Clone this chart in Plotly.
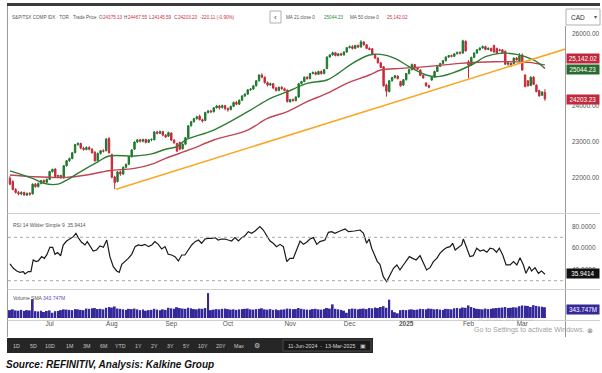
import plotly.graph_objects as go

W, H = 602, 373

# ---------------- data ----------------
month_idx = [14, 36, 57, 77, 99, 120, 140, 162, 181]
month_txt = ['Jul', 'Aug', 'Sep', 'Oct', 'Nov', 'Dec', '<b>2025</b>', 'Feb', 'Mar']
price_ticks = [22000, 23000, 24000, 26000]
rsi_ticks = [40, 60, 80]

opens = [22000, 21900, 21680, 21600, 21560, 21600, 21530, 21570, 21560, 21830,
 21760, 21850, 21930, 21880, 21960, 22180, 22250, 22040, 22070, 22000,
 22340, 22480, 22540, 22700, 22930, 22960, 22830, 22790, 22850, 22800,
 22720, 22480, 22680, 22760, 22760, 23100, 22650, 22030, 21900, 22170,
 22110, 22300, 22380, 22590, 22800, 23000, 23060, 23020, 23070, 22990,
 23060, 23060, 23280, 23240, 23290, 23190, 23160, 23250, 23050, 22960,
 22990, 22810, 22940, 23120, 23450, 23560, 23650, 23720, 23620, 23600,
 23820, 23860, 23840, 23950, 24000, 23960, 24010, 23930, 23900, 23990,
 24100, 24050, 24160, 24280, 24330, 24450, 24470, 24560, 24700, 24860,
 24800, 24650, 24580, 24620, 24500, 24430, 24520, 24480, 24440, 24120,
 24180, 24150, 24250, 24620, 24680, 24800, 24760, 24900, 24930, 24880,
 24960, 24900, 25040, 25360, 25420, 25480, 25400, 25450, 25420, 25500,
 25620, 25650, 25600, 25680, 25640, 25780, 25700, 25600, 25590, 25430,
 25330, 25200, 25090, 24580, 24400, 24700, 24790, 24830, 24680, 24580,
 24730, 24900, 25010, 25150, 25050, 25000, 24850, 24640, 24570, 24720,
 24800, 24960, 25100, 25180, 25260, 25360, 25400, 25380, 25450, 25490,
 25470, 25800, 25230, 25140, 25350, 25470, 25560, 25610, 25650, 25570,
 25600, 25680, 25600, 25560, 25560, 25520, 25160, 25190, 25180, 25330,
 25250, 25420, 24860, 24700, 24570, 24800, 24580, 24430, 24300, 24375.13]

highs = [22050, 21940, 21720, 21640, 21630, 21620, 21600, 21610, 21850, 21860,
 21870, 21950, 21960, 21990, 22200, 22260, 22270, 22090, 22090, 22360,
 22500, 22570, 22720, 22950, 22990, 22980, 22870, 22880, 22880, 22830,
 22740, 22710, 22780, 22800, 23110, 23130, 22680, 22060, 22190, 22210,
 22320, 22400, 22610, 22800, 23020, 23080, 23090, 23090, 23090, 23080,
 23100, 23300, 23310, 23320, 23310, 23220, 23290, 23270, 23080, 22980,
 23010, 22960, 23140, 23470, 23590, 23670, 23730, 23760, 23650, 23840,
 23890, 23890, 23970, 24030, 24030, 24040, 24030, 23960, 24010, 24120,
 24140, 24180, 24300, 24350, 24470, 24500, 24580, 24720, 24880, 24910,
 24820, 24680, 24650, 24640, 24530, 24540, 24550, 24510, 24460, 24200,
 24210, 24270, 24640, 24700, 24820, 24830, 24920, 24960, 24960, 24980,
 24990, 25030, 25380, 25440, 25510, 25500, 25470, 25480, 25520, 25640,
 25680, 25690, 25700, 25710, 25830, 25800, 25720, 25630, 25610, 25450,
 25350, 25220, 25110, 24620, 24720, 24810, 24860, 24850, 24700, 24750,
 24920, 25030, 25180, 25170, 25080, 25020, 24870, 24660, 24590, 24820,
 24980, 25120, 25200, 25280, 25380, 25420, 25430, 25470, 25510, 25520,
 25840, 25820, 25280, 25370, 25490, 25580, 25630, 25680, 25670, 25630,
 25620, 25700, 25620, 25590, 25580, 25540, 25230, 25210, 25350, 25360,
 25470, 25460, 24880, 24720, 24820, 24830, 24600, 24450, 24410, 24467.55]

lows = [21800, 21660, 21570, 21520, 21520, 21500, 21500, 21510, 21540, 21730,
 21740, 21820, 21850, 21860, 21940, 22150, 22020, 22000, 21980, 21990,
 22320, 22450, 22520, 22690, 22890, 22800, 22760, 22770, 22770, 22680,
 22450, 22470, 22650, 22710, 22740, 22680, 21990, 21690, 21880, 22060,
 22090, 22270, 22360, 22570, 22780, 22970, 22990, 22990, 22960, 22970,
 23020, 23050, 23210, 23220, 23160, 23110, 23140, 23030, 22950, 22720,
 22770, 22790, 22920, 23100, 23430, 23540, 23620, 23600, 23540, 23580,
 23790, 23800, 23820, 23930, 23900, 23930, 23880, 23840, 23880, 23970,
 24020, 24030, 24140, 24250, 24310, 24420, 24450, 24540, 24680, 24770,
 24620, 24540, 24560, 24470, 24400, 24410, 24450, 24410, 24100, 24090,
 24120, 24130, 24230, 24600, 24660, 24730, 24740, 24880, 24850, 24860,
 24870, 24880, 25020, 25340, 25400, 25380, 25380, 25390, 25400, 25480,
 25600, 25570, 25580, 25610, 25620, 25680, 25580, 25550, 25410, 25310,
 25180, 25050, 24540, 24260, 24380, 24680, 24760, 24740, 24540, 24560,
 24710, 24880, 24990, 25030, 25000, 24830, 24760, 24540, 24490, 24700,
 24780, 24940, 25080, 25160, 25240, 25340, 25350, 25360, 25430, 25430,
 25450, 25510, 24770, 25120, 25330, 25450, 25540, 25590, 25550, 25550,
 25510, 25480, 25450, 25520, 25460, 25140, 25120, 25080, 25160, 25260,
 25230, 24980, 24520, 24540, 24550, 24580, 24380, 24260, 24280, 24145.59]

closes = [21830, 21680, 21600, 21560, 21600, 21530, 21570, 21550, 21830, 21760,
 21850, 21930, 21880, 21960, 22180, 22240, 22040, 22070, 22010, 22340,
 22480, 22540, 22700, 22930, 22960, 22830, 22790, 22850, 22800, 22700,
 22480, 22680, 22760, 22740, 23080, 22700, 22020, 21870, 22170, 22110,
 22300, 22380, 22590, 22780, 23000, 23060, 23020, 23070, 22990, 23060,
 23070, 23280, 23240, 23290, 23190, 23140, 23260, 23050, 22980, 22750,
 22800, 22940, 23120, 23450, 23560, 23650, 23700, 23620, 23580, 23820,
 23860, 23840, 23950, 24000, 23950, 24010, 23930, 23900, 23990, 24100,
 24050, 24160, 24280, 24330, 24450, 24470, 24560, 24700, 24860, 24800,
 24650, 24580, 24620, 24500, 24430, 24520, 24480, 24430, 24120, 24180,
 24150, 24250, 24620, 24680, 24800, 24760, 24900, 24930, 24880, 24960,
 24900, 25010, 25360, 25420, 25480, 25400, 25450, 25420, 25500, 25620,
 25650, 25600, 25680, 25640, 25780, 25700, 25600, 25570, 25430, 25330,
 25200, 25070, 24560, 24410, 24700, 24790, 24840, 24760, 24560, 24730,
 24900, 25010, 25150, 25050, 25020, 24850, 24780, 24560, 24520, 24800,
 24960, 25100, 25180, 25260, 25360, 25400, 25380, 25450, 25490, 25470,
 25810, 25530, 25140, 25350, 25470, 25560, 25610, 25650, 25570, 25600,
 25530, 25500, 25470, 25540, 25480, 25160, 25200, 25130, 25330, 25280,
 25390, 25000, 24540, 24560, 24800, 24600, 24400, 24280, 24390, 24203.23]

ma21_x = [0, 8, 12, 17, 20, 25, 31, 35, 44, 50, 55, 59, 62, 72, 84, 92, 98, 105,
          112, 116, 121, 127, 131, 136, 141, 147, 151, 156, 163, 168, 173, 179, 185, 189]
ma21_y = [22200, 21990, 21850, 21830, 21940, 22180, 22450, 22610, 22610, 22670, 22800,
          22870, 23055, 23333, 23842, 24213, 24398, 24629, 24722, 24907, 25185, 25417,
          25435, 25324, 25093, 24861, 24815, 24907, 25139, 25370, 25463, 25435, 25278, 25044.23]

ma50_x = [0, 8, 20, 27, 35, 44, 51, 55, 64, 72, 84, 91, 98, 105, 112, 119, 127,
          131, 138, 147, 159, 171, 183, 189]
ma50_y = [22083, 22037, 22018, 22083, 22203, 22268, 22407, 22546, 22800, 23055, 23333,
          23657, 23842, 24120, 24352, 24629, 24861, 25000, 25046, 25093, 25185, 25231,
          25213, 25142.02]

trend_x = [37.5, 196.5]
trend_y = [21690, 25590]

rsi_x = [0, 1.2, 2.4, 3.5, 4.7, 5.3, 6.5, 7.4, 8.2, 9.2, 10.0, 11.2, 12.1, 13.0, 14.1,
         15.1, 15.9, 16.8, 17.9, 18.8, 20.0, 21.2, 22.4, 23.3, 24.1, 25.3, 26.5, 27.3,
         28.3, 29.4, 30.6, 31.8, 33.0, 34.2, 35.3, 36.5, 37.7, 38.6, 39.5, 40.6, 41.8,
         43.0, 44.2, 45.3, 46.5, 47.7, 48.9, 50.1, 51.2, 52.4, 53.6, 54.8, 55.9, 57.1,
         58.3, 59.5, 60.7, 61.8, 63.0, 64.2, 65.4, 66.6, 67.7, 68.9, 70.1, 71.3, 72.4,
         73.6, 74.8, 76.0, 77.1, 78.3, 79.5, 80.7, 81.9, 83.0, 84.2, 85.4, 86.6, 88.3,
         89.5, 90.7, 91.9, 93.0, 94.2, 95.4, 96.6, 97.8, 98.9, 100.1, 101.3, 102.5,
         103.7, 104.8, 106.0, 107.2, 108.4, 109.5, 111.3, 112.5, 113.7, 114.8, 116.6,
         118.4, 119.6, 120.7, 121.7, 123.7, 124.9, 126.0, 126.9, 127.8, 128.9, 129.8,
         130.7, 131.9, 133.1, 134.3, 135.5, 136.7, 137.8, 139.0, 140.2, 141.1, 142.3,
         143.5, 144.9, 146.0, 147.2, 148.4, 149.6, 150.8, 151.9, 153.1, 154.3, 155.5,
         156.4, 157.3, 158.4, 159.6, 160.2, 161.4, 162.5, 163.7, 164.9, 166.1, 167.3,
         168.5, 169.6, 170.8, 171.9, 172.9, 174.1, 175.3, 176.7, 177.9, 179.1, 180.2,
         181.4, 182.3, 183.5, 184.3, 185.5, 186.7, 187.8, 189.0]
rsi_y = [45.5, 41.4, 39.0, 37.7, 38.4, 36.2, 38.4, 38.4, 49.1, 47.6, 48.2, 52.2, 50.6,
         53.7, 60.8, 60.8, 54.3, 55.9, 53.0, 62.9, 66.6, 69.0, 70.6, 73.7, 69.7, 65.4,
         62.9, 66.0, 62.3, 57.4, 58.3, 62.0, 60.8, 67.5, 52.2, 43.0, 39.0, 37.7, 45.1,
         47.6, 50.6, 54.3, 61.4, 62.9, 62.3, 63.5, 61.4, 62.9, 66.0, 63.5, 59.2, 61.4,
         54.3, 53.7, 52.2, 48.2, 53.7, 53.7, 58.3, 62.9, 66.0, 67.5, 64.5, 68.4, 69.0,
         69.0, 69.7, 67.5, 68.4, 68.4, 67.5, 66.6, 69.7, 66.6, 69.7, 71.5, 75.2, 73.7,
         75.8, 79.8, 76.7, 72.1, 66.6, 64.5, 61.4, 63.5, 61.4, 47.6, 50.6, 50.6, 58.3,
         66.6, 63.5, 65.4, 68.4, 69.7, 63.5, 66.0, 67.5, 74.6, 75.2, 73.7, 75.8, 77.7,
         75.2, 75.8, 75.8, 76.7, 73.7, 64.5, 68.4, 59.9, 52.2, 47.6, 45.1, 33.7, 29.2,
         35.3, 41.4, 44.5, 39.9, 44.5, 49.1, 52.2, 50.6, 49.1, 53.1, 46.0, 39.9, 42.0,
         47.6, 50.6, 55.2, 58.3, 60.5, 61.4, 64.5, 58.3, 60.5, 62.9, 68.4, 59.9, 52.2,
         53.1, 59.9, 57.4, 58.3, 56.2, 59.9, 59.2, 56.2, 59.9, 53.7, 44.5, 44.5, 47.6,
         44.5, 51.2, 44.5, 36.8, 43.0, 39.0, 42.0, 36.8, 39.0, 35.9414]

volume_m = [300, 330, 290, 280, 310, 270, 300, 290, 720, 260,
            250, 280, 230, 270, 290, 200, 260, 270, 300, 330,
            320, 310, 300, 340, 330, 310, 300, 360, 350, 370,
            380, 340, 350, 330, 390, 420, 400, 440, 360, 350,
            330, 310, 350, 340, 360, 330, 300, 320, 280, 300,
            310, 350, 320, 300, 330, 310, 390, 370, 350, 410,
            380, 360, 350, 390, 370, 340, 330, 360, 350, 380,
            950, 300, 320, 340, 330, 350, 360, 340, 320, 330,
            310, 330, 340, 350, 360, 330, 320, 340, 350, 370,
            330, 320, 340, 310, 330, 300, 320, 330, 360, 350,
            330, 340, 380, 350, 330, 320, 310, 340, 350, 330,
            320, 340, 380, 360, 520, 350, 330, 310, 280, 200,
            340, 360, 350, 330, 350, 360, 340, 380, 370, 400,
            380, 420, 450, 390, 700, 300, 220, 180, 300, 310,
            300, 320, 330, 310, 320, 350, 340, 330, 360, 350,
            330, 340, 320, 310, 350, 340, 330, 370, 380, 360,
            400, 390, 480, 420, 380, 350, 340, 330, 360, 340,
            350, 370, 380, 390, 400, 420, 380, 390, 410, 400,
            450, 480, 470, 460, 420, 490, 460, 440, 430, 410]

idx = list(range(len(closes)))

# ---------------- styling ----------------
GREEN = '#1e7a2e'
RED = '#c62a3a'
MA21C = '#2e7d32'
MA50C = '#c04455'
ORANGE = '#f8a624'
VOLC = '#35289a'
TXT = '#555555'
FONT = 'Liberation Sans, Arial, sans-serif'


def px(x):
    return x / W


def py(y):
    return 1 - y / H


fig = go.Figure()

fig.add_trace(go.Candlestick(
    x=idx, open=opens, high=highs, low=lows, close=closes,
    increasing=dict(line=dict(color=GREEN, width=1), fillcolor=GREEN),
    decreasing=dict(line=dict(color=RED, width=1), fillcolor=RED),
    whiskerwidth=0, xaxis='x', yaxis='y', showlegend=False, hoverinfo='skip'))

fig.add_trace(go.Scatter(x=ma50_x, y=ma50_y, mode='lines', line=dict(color=MA50C, width=1.4, shape='spline'),
                         xaxis='x', yaxis='y', showlegend=False, hoverinfo='skip'))
fig.add_trace(go.Scatter(x=ma21_x, y=ma21_y, mode='lines', line=dict(color=MA21C, width=1.4, shape='spline'),
                         xaxis='x', yaxis='y', showlegend=False, hoverinfo='skip'))
fig.add_trace(go.Scatter(x=trend_x, y=trend_y, mode='lines', line=dict(color=ORANGE, width=1.6),
                         xaxis='x', yaxis='y', showlegend=False, hoverinfo='skip', cliponaxis=True))

fig.add_trace(go.Scatter(x=rsi_x, y=rsi_y, mode='lines', line=dict(color='#1a1a1a', width=1.2),
                         xaxis='x', yaxis='y2', showlegend=False, hoverinfo='skip'))

fig.add_trace(go.Bar(x=idx, y=[v * 1e6 for v in volume_m], marker=dict(color=VOLC, line=dict(width=0)),
                     width=0.7, xaxis='x', yaxis='y3', showlegend=False, hoverinfo='skip'))

X0, X1 = 8, 565
fig.update_layout(
    width=W, height=H, autosize=False,
    margin=dict(l=0, r=0, t=0, b=0),
    paper_bgcolor='white', plot_bgcolor='white',
    font=dict(family=FONT, size=6, color=TXT),
    xaxis=dict(domain=[px(X0), px(X1)], range=[-0.7, 196.1], anchor='y3',
               tickvals=month_idx, ticktext=month_txt, showgrid=False, zeroline=False,
               showline=False, ticks='', tickfont=dict(size=6.5, color=TXT),
               rangeslider=dict(visible=False), fixedrange=True),
    yaxis=dict(domain=[py(213), py(25)], range=[21028, 26250], side='right', anchor='x',
               tickvals=price_ticks, tickformat='.2f',
               showgrid=False, zeroline=False, showline=False, ticks='',
               ticklabelstandoff=6, tickfont=dict(size=6.5, color=TXT)),
    yaxis2=dict(domain=[py(289), py(215)], range=[22.35, 90.55], side='right', anchor='x',
                tickvals=rsi_ticks, tickformat='.4f', showgrid=False, zeroline=False,
                showline=False, ticks='', ticklabelstandoff=6, tickfont=dict(size=6.5, color=TXT)),
    yaxis3=dict(domain=[py(318), py(291)], range=[0, 1030e6], side='right', anchor='x',
                showticklabels=False, showgrid=False, zeroline=False, showline=False),
    bargap=0.3,
)

shapes = []
shapes.append(dict(type='rect', xref='paper', yref='paper', x0=px(7), x1=px(600), y0=py(6), y1=py(3),
                   fillcolor='#3c3c3c', line=dict(width=0), layer='above'))
shapes.append(dict(type='line', xref='paper', yref='paper', x0=px(7.5), x1=px(7.5), y0=py(6), y1=py(337),
                   line=dict(color='#9a9a9a', width=1)))
shapes.append(dict(type='line', xref='paper', yref='paper', x0=px(565.5), x1=px(565.5), y0=py(26), y1=py(337),
                   line=dict(color='#9a9a9a', width=1)))
for yy in [213.5, 289.5, 320.5]:
    shapes.append(dict(type='line', xref='paper', yref='paper', x0=px(7.5), x1=px(600), y0=py(yy), y1=py(yy),
                       line=dict(color='#d0d0d0', width=1)))
for lvl in [70, 30]:
    shapes.append(dict(type='line', xref='paper', yref='y2', x0=px(X0), x1=px(X1), y0=lvl, y1=lvl,
                       line=dict(color='#a8a8a8', width=1, dash='dot')))
shapes.append(dict(type='rect', xref='paper', yref='paper', x0=px(7), x1=px(373), y0=py(353), y1=py(338),
                   fillcolor='#262626', line=dict(width=0)))
shapes.append(dict(type='rect', xref='paper', yref='paper', x0=px(283), x1=px(371), y0=py(351), y1=py(340),
                   fillcolor='#1a1a1a', line=dict(color='#4a4a4a', width=1)))
shapes.append(dict(type='rect', xref='paper', yref='paper', x0=px(566), x1=px(600), y0=py(25), y1=py(9),
                   fillcolor='white', line=dict(color='#b0b0b0', width=1)))
shapes.append(dict(type='rect', xref='paper', yref='paper', x0=px(270), x1=px(281), y0=py(23), y1=py(11),
                   fillcolor='white', line=dict(color='#b0b0b0', width=1)))
fig.update_layout(shapes=shapes)

ann = []


def text(x, y, s, size=6, color=TXT, anchor='left', **kw):
    ann.append(dict(xref='paper', yref='paper', x=px(x), y=py(y), text=s, showarrow=False,
                    xanchor=anchor, yanchor='middle', font=dict(size=size, color=color, family=FONT), **kw))


HR = '#c8333f'
HS = 4.6
text(10, 17, 'S&P/TSX COMP IDX · TOR · Trade Price', HS)
text(97, 17, 'O', HS)
text(101, 17, '24375.13', HS, HR)
text(122, 17, 'H', HS)
text(126, 17, '24467.55', HS, HR)
text(147, 17, 'L', HS)
text(150, 17, '24145.59', HS, HR)
text(172, 17, 'C', HS)
text(176, 17, '24203.23', HS, HR)
text(198, 17, '-220.11 (-0.90%)', HS, HR)
text(275.5, 17, '‹', 8, '#444', anchor='center')
text(284, 17, 'MA 21 close 0', HS)
text(322, 17, '25044.23', HS, '#2e8b3a')
text(348, 17, 'MA 50 close 0', HS)
text(385, 17, '25,142.02', HS, HR)
text(569, 17, 'CAD', 6.5, '#333')
text(595, 17, '▾', 6, '#555', anchor='center')


def tag(y, s, bg):
    ann.append(dict(xref='paper', yref='paper', x=px(566), y=py(y), text=s, showarrow=False,
                    xanchor='left', yanchor='middle', width=31, height=8, align='center',
                    bgcolor=bg, borderpad=0.5,
                    font=dict(size=6.3, color='white', family=FONT)))


tag(58, '25,142.02', '#c0283c')
tag(69, '25044.23', '#2b6a2f')
tag(100, '24203.23', '#c0283c')
tag(273, '35.9414', '#111111')
tag(309, '343.747M', '#35289a')

text(11, 225, 'RSI 14 Wilder Simple 9  35.9414', 5)
text(11, 298, 'Volume SMA <span style="color:#5a4fc0">343.747M</span>', 5)

text(476, 318, 'Activate Windows', 7, 'rgba(150,150,150,0.35)')
text(472, 330, 'Go to Settings to activate Windows.', 7, 'rgba(140,140,140,0.85)')
text(590, 330, '⊗', 7, '#777', anchor='center')

tb = [('1D', 16), ('5D', 33), ('10D', 50), ('1M', 69), ('3M', 86), ('6M', 103), ('YTD', 120),
      ('1Y', 138), ('2Y', 154), ('3Y', 170), ('5Y', 186), ('10Y', 203), ('20Y', 221), ('Max', 239)]
for s, x in tb:
    text(x, 345.5, s, 5.3, '#c8c8c8', anchor='center')
text(257, 345.5, '⚙', 6.5, '#c8c8c8', anchor='center')
text(322, 345.5, '11-Jun-2024  -  13-Mar-2025', 5.3, '#d8d8d8', anchor='center')
text(363, 345.5, '▣', 6, '#c8c8c8', anchor='center')

ann.append(dict(xref='paper', yref='paper', x=px(4), y=py(364), text='<b><i>Source: REFINITIV, Analysis: Kalkine Group</i></b>',
                showarrow=False, xanchor='left', yanchor='middle',
                font=dict(size=10, color='#111', family='Liberation Sans, Arial')))

fig.update_layout(annotations=ann)

fig.write_html('out.html', config={'displayModeBar': False},
               post_script="document.body.style.margin='0';document.body.style.padding='0';")
